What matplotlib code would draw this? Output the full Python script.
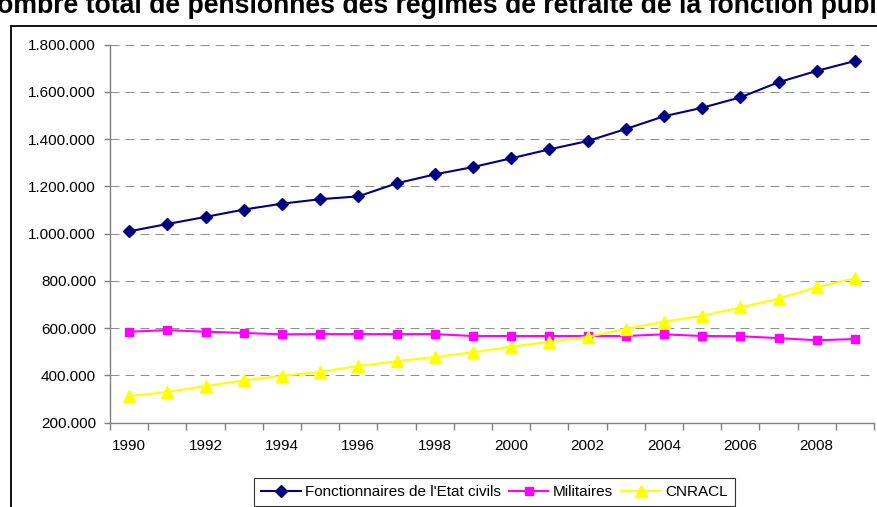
import matplotlib
matplotlib.use("Agg")
import matplotlib.pyplot as plt
from matplotlib.patches import Rectangle
from matplotlib.ticker import FixedLocator, FuncFormatter

plt.rcParams['font.family'] = ['Liberation Sans', 'DejaVu Sans']

years = list(range(1990, 2010))
fonctionnaires = [1010000, 1041000, 1071000, 1102000, 1127000, 1146000, 1158000,
                  1213000, 1251000, 1282000, 1319000, 1357000, 1392000, 1443000,
                  1497000, 1533000, 1577000, 1641000, 1689000, 1731000]
militaires = [585000, 592000, 585000, 580000, 574000, 575000, 575000, 575000,
              575000, 567000, 567000, 567000, 567000, 567000, 574000, 567000,
              566000, 558000, 549000, 554000]
cnracl = [312000, 330000, 355000, 379000, 398000, 415000, 440000, 460000,
          478000, 498000, 522000, 542000, 563000, 597000, 628000, 652000,
          688000, 725000, 774000, 811000]
series_names = ["Fonctionnaires de l'Etat civils", "Militaires", "CNRACL"]
title = "Nombre total de pensionnés des régimes de retraite de la fonction publique"

W, H = 877, 507
fig = plt.figure(figsize=(W / 100, H / 100), dpi=100)

# outer chart frame
fig.patches.append(Rectangle((11 / W, -0.1), 1.2, (H - 26) / H + 0.1,
                             transform=fig.transFigure, fill=False,
                             edgecolor='black', linewidth=1.3))

fig.text(-0.025, 1 - 13 / H, title, fontsize=19.2, fontweight='bold',
         ha='left', va='baseline')

ax = fig.add_axes([110 / W, 84.3 / H, 764 / W, (422.7 - 44.7) / H])
x = list(range(len(years)))
ax.plot(x, fonctionnaires, color='#000080', lw=1.5, marker='D', ms=6.5,
        label=series_names[0])
ax.plot(x, militaires, color='#FF00FF', lw=1.5, marker='s', ms=6,
        label=series_names[1])
ax.plot(x, cnracl, color='#FFFF00', lw=1.5, marker='^', ms=8,
        label=series_names[2])

ax.set_xlim(-0.5, len(years) - 0.5)
ax.set_ylim(200000, 1800000)
ax.yaxis.set_major_locator(FixedLocator(range(200000, 1800001, 200000)))
ax.yaxis.set_major_formatter(FuncFormatter(lambda v, p: f"{v:,.0f}".replace(',', '.')))

# category boundaries carry the tick marks, labels sit under every other year
ax.xaxis.set_major_locator(FixedLocator([i - 0.5 for i in range(len(years) + 1)]))
ax.xaxis.set_major_formatter(FuncFormatter(lambda v, p: ''))
ax.xaxis.set_minor_locator(FixedLocator(x[::2]))
ax.xaxis.set_minor_formatter(FuncFormatter(lambda v, p: str(years[int(round(v))])))
ax.tick_params(axis='x', which='major', length=5, color='#808080', width=1)
ax.tick_params(axis='x', which='minor', length=0, pad=12, labelsize=11)
ax.tick_params(axis='y', length=4, color='#808080', width=1, pad=6, labelsize=11)

for s in ('top', 'right'):
    ax.spines[s].set_visible(False)
for s in ('left', 'bottom'):
    ax.spines[s].set_color('#808080')
    ax.spines[s].set_linewidth(1)

ax.yaxis.grid(True, color='#909090', linewidth=0.75, linestyle=(0, (8.6, 5.8)))
ax.set_axisbelow(True)

leg = fig.legend(loc='upper left', bbox_to_anchor=(254 / W, 1 - 478 / H),
                 ncol=3, fontsize=11, frameon=True, fancybox=False,
                 edgecolor='black', borderpad=0.45, handlelength=2.6,
                 handletextpad=0.3, columnspacing=0.5, borderaxespad=0)
leg.get_frame().set_linewidth(0.8)

fig.savefig('out.png', dpi=100)
